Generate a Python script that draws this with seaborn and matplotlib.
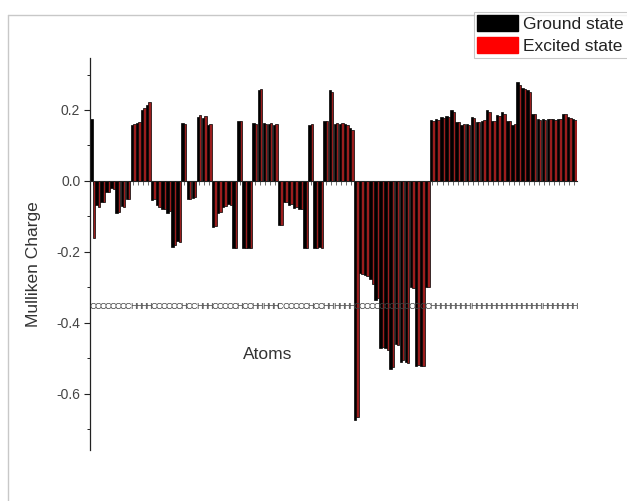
import matplotlib
matplotlib.use("Agg")
import matplotlib.pyplot as plt
from matplotlib.patches import Patch
from matplotlib.lines import Line2D
from matplotlib.ticker import MultipleLocator
import seaborn as sns
import pandas as pd

# ---------------- data ----------------
ground_state = [
    0.175, -0.068, -0.060, -0.030, -0.020, -0.090, -0.070, -0.050,
    0.158, 0.163, 0.200, 0.215,
    -0.055, -0.068, -0.078, -0.090, -0.185, -0.170,
    0.163,
    -0.050, -0.048,
    0.180, 0.178, 0.158,
    -0.130, -0.090, -0.072, -0.065, -0.190,
    0.170,
    -0.190, -0.190,
    0.163, 0.255, 0.163, 0.160, 0.158,
    -0.125, -0.060, -0.068, -0.075, -0.080, -0.190,
    0.158,
    -0.190, -0.185,
    0.170, 0.255, 0.160, 0.160, 0.160, 0.148,
    -0.673, -0.260, -0.265, -0.275, -0.335, -0.470, -0.470, -0.530,
    -0.460, -0.510, -0.510, -0.300, -0.520, -0.520, -0.300,
    0.172, 0.175, 0.180, 0.182, 0.200, 0.167, 0.158, 0.160, 0.180, 0.167,
    0.170, 0.200, 0.170, 0.185, 0.195, 0.170, 0.158, 0.280, 0.262, 0.255,
    0.190, 0.175, 0.175, 0.175, 0.175, 0.175, 0.190, 0.180, 0.175,
]
excited_state = [
    -0.160, -0.072, -0.058, -0.032, -0.024, -0.088, -0.074, -0.052,
    0.160, 0.165, 0.205, 0.222,
    -0.052, -0.072, -0.080, -0.086, -0.180, -0.172,
    0.160,
    -0.052, -0.045,
    0.185, 0.182, 0.160,
    -0.128, -0.088, -0.070, -0.068, -0.188,
    0.168,
    -0.190, -0.188,
    0.160, 0.260, 0.160, 0.163, 0.160,
    -0.123, -0.058, -0.065, -0.072, -0.078, -0.188,
    0.160,
    -0.188, -0.190,
    0.168, 0.250, 0.163, 0.162, 0.158, 0.145,
    -0.665, -0.262, -0.268, -0.290, -0.330, -0.468, -0.475, -0.525,
    -0.462, -0.505, -0.512, -0.302, -0.518, -0.522, -0.298,
    0.170, 0.173, 0.178, 0.180, 0.195, 0.165, 0.160, 0.158, 0.178, 0.165,
    0.172, 0.195, 0.168, 0.182, 0.190, 0.168, 0.160, 0.270, 0.258, 0.252,
    0.188, 0.173, 0.173, 0.174, 0.173, 0.176, 0.188, 0.178, 0.172,
]
atom_labels = list(
    "CCCCCCCC" "HHHH" "CCCCCC" "H" "CC" "HHH" "CCCCC" "H" "CC" "HHHHH"
    "CCCCCC" "H" "CC" "HHHHHH" "CCCCCCCCCCCCCCC"
    "HHHHHHHHHHHHHHHHHHHHHHHHHHHHH"
)
state_names = ["Ground state", "Excited state"]
y_ticks = [-0.6, -0.4, -0.2, 0.0, 0.2]

n = len(ground_state)
atoms = list(range(n))
df = pd.DataFrame({
    "atom": atoms * 2,
    "charge": ground_state + excited_state,
    "state": [state_names[0]] * n + [state_names[1]] * n,
})

# ---------------- figure ----------------
sns.set_theme(style="white")
plt.rcParams["font.family"] = ["Liberation Sans", "DejaVu Sans"]

W, H = 627, 501
fig = plt.figure(figsize=(W / 100, H / 100), dpi=100)
fig.patch.set_facecolor("white")

x0, x1, ytop, ybot = 90, 577, 58, 450
ax = fig.add_axes([x0 / W, 1 - ybot / H, (x1 - x0) / W, (ybot - ytop) / H])
ax.set_facecolor("white")

palette = {state_names[0]: "black", state_names[1]: "#b00808"}
sns.barplot(data=df, x="atom", y="charge", hue="state", hue_order=state_names,
            order=atoms, palette=palette, width=0.95, edgecolor="black",
            linewidth=0.5, legend=False, ax=ax, errorbar=None)

ax.set_xlim(-0.5, n - 0.5)
ax.set_ylim(-0.758, 0.3465)

for s in ["top", "right"]:
    ax.spines[s].set_visible(False)
ax.spines["left"].set_color("#222222")
ax.spines["left"].set_linewidth(0.9)
ax.spines["bottom"].set_position(("data", 0))
ax.spines["bottom"].set_color("#222222")
ax.spines["bottom"].set_linewidth(0.8)

ax.set_xticks(atoms)
ax.set_xticklabels([])
ax.tick_params(axis="x", direction="out", length=3, width=0.5, colors="#333333",
               bottom=True)

ax.set_yticks(y_ticks)
ax.set_yticklabels([f"{v:.1f}" for v in y_ticks])
ax.yaxis.set_minor_locator(MultipleLocator(0.1))
ax.tick_params(axis="y", which="major", direction="out", length=4, width=0.8,
               colors="#222222", labelcolor="#444444", labelsize=10, pad=3, left=True)
ax.tick_params(axis="y", which="minor", direction="out", length=2.5, width=0.7,
               colors="#222222", left=True)

ax.set_xlabel("")
ax.set_ylabel("Mulliken Charge", fontsize=12.5, color="#333333")
ax.yaxis.set_label_coords(-0.1, 0.475)

# atom labels row
for i, lab in enumerate(atom_labels):
    ax.text(i, -0.355, lab, ha="center", va="center", fontsize=6.5,
            color="#444444")

ax.text(34.6, -0.49, "Atoms", ha="center", va="center", fontsize=12.5,
        color="#333333")

# page border lines
fig.add_artist(Line2D([8 / W, 8 / W], [0, 1 - 15 / H], transform=fig.transFigure,
                      color="#c8c8c8", lw=1))
fig.add_artist(Line2D([8 / W, 1], [1 - 15 / H, 1 - 15 / H], transform=fig.transFigure,
                      color="#c8c8c8", lw=1))

handles = [Patch(facecolor="black", edgecolor="black"),
           Patch(facecolor="#ff0000", edgecolor="#ff0000")]
leg = fig.legend(handles, state_names, loc="upper left",
                 bbox_to_anchor=(474 / W, 1 - 12 / H), frameon=True,
                 fancybox=False, edgecolor="#bbbbbb", fontsize=12.5,
                 handlelength=2.35, handleheight=1.0, borderpad=0.2,
                 labelspacing=0.3, handletextpad=0.3, borderaxespad=0)
leg.get_frame().set_linewidth(0.8)
for t in leg.get_texts():
    t.set_color("#222222")

fig.savefig("out.png", dpi=100, facecolor="white")
